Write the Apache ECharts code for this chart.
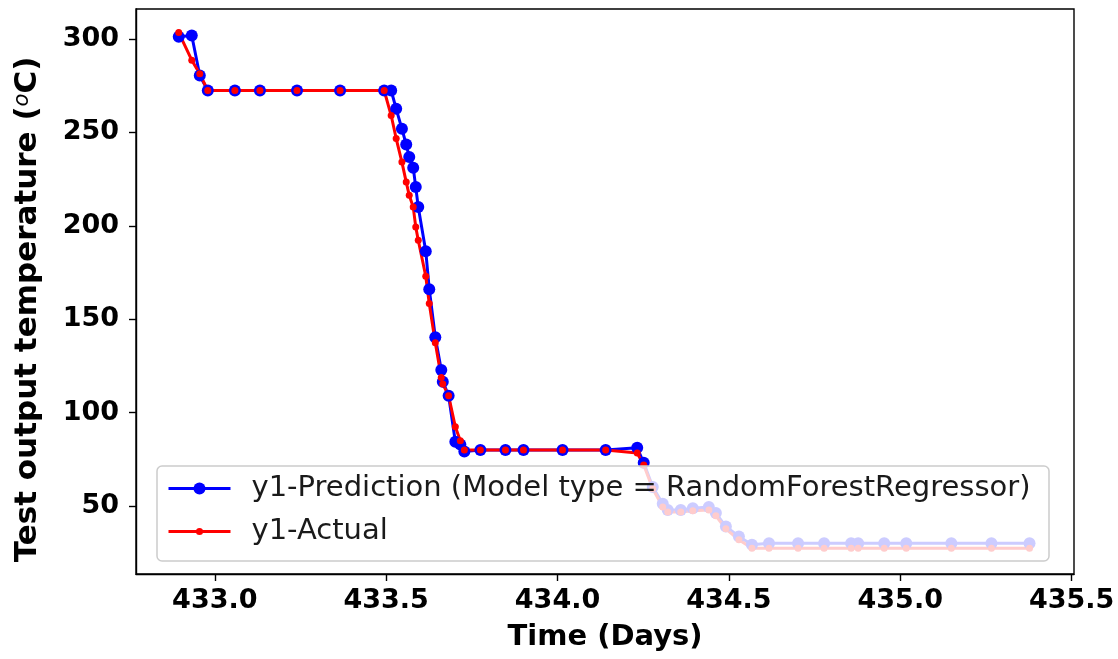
<!DOCTYPE html>
<html>
<head>
<meta charset="utf-8">
<title>Test output temperature</title>
<script src="https://cdn.jsdelivr.net/npm/echarts@6/dist/echarts.min.js"></script>
<style>
  html, body { margin: 0; padding: 0; background: #ffffff; }
  #chart { width: 1118px; height: 659px; }
</style>
</head>
<body>
<div id="chart"></div>
<script>
// Time stamps (days) shared by both series
const timeDays = [
  432.8947, 432.9327, 432.9561, 432.9795, 433.0585, 433.1316, 433.2398, 433.3655,
  433.4942, 433.5146, 433.5292, 433.5459, 433.5585, 433.5673, 433.5789, 433.5863,
  433.5936, 433.6155, 433.6257, 433.6433, 433.6608, 433.6652, 433.6822, 433.7018,
  433.7164, 433.7281, 433.7749, 433.8480, 433.9006, 434.0146, 434.1404, 434.2325,
  434.2515, 434.2778, 434.3070, 434.3216, 434.3596, 434.3947, 434.4415, 434.4620,
  434.4912, 434.5292, 434.5673, 434.6170, 434.7018, 434.7778, 434.8567, 434.8772,
  434.9532, 435.0175, 435.1491, 435.2661, 435.3772
];

// Predicted temperature (°C), RandomForestRegressor
const predTemp = [
  301.2, 301.8, 280.4, 272.4, 272.4, 272.4, 272.4, 272.4,
  272.4, 272.4, 262.6, 251.9, 243.5, 236.8, 231.1, 220.7,
  210.0, 186.4, 166.1, 140.4, 122.8, 116.6, 109.1, 84.5,
  83.0, 79.2, 80.1, 80.1, 80.1, 80.1, 80.1, 81.2,
  73.2, 60.3, 51.3, 48.0, 48.0, 48.9, 49.6, 46.3,
  39.1, 33.8, 29.3, 30.2, 30.2, 30.2, 30.2, 30.2,
  30.2, 30.2, 30.2, 30.2, 30.2
];

// Measured temperature (°C)
const actualTemp = [
  303.4, 288.6, 281.3, 272.4, 272.4, 272.4, 272.4, 272.4,
  272.4, 259.0, 246.7, 234.1, 223.4, 216.3, 210.0, 199.4,
  192.3, 173.0, 158.4, 137.4, 118.9, 115.3, 109.1, 92.5,
  85.0, 80.1, 80.1, 80.1, 80.1, 80.1, 80.1, 78.4,
  72.0, 59.3, 49.6, 46.9, 46.9, 47.5, 48.0, 44.8,
  37.9, 32.0, 27.5, 27.5, 27.5, 27.5, 27.5, 27.5,
  27.5, 27.5, 27.5, 27.5, 27.5
];

const xTickValues = [433.0, 433.5, 434.0, 434.5, 435.0, 435.5];
const yTickValues = [50, 100, 150, 200, 250, 300];

const predName = 'y1-Prediction (Model type = RandomForestRegressor)';
const actualName = 'y1-Actual';

const FONT = 'DejaVu Sans';
const INK = '#000000';

const predData = timeDays.map((t, i) => [t, predTemp[i]]);
const actualData = timeDays.map((t, i) => [t, actualTemp[i]]);

const chart = echarts.init(document.getElementById('chart'), null, { renderer: 'canvas' });

const legendCommon = {
  left: 167,
  orient: 'vertical',
  padding: 0,
  selectedMode: false,
  itemWidth: 62,
  z: 6,
  lineStyle: { width: 3 },
  textStyle: {
    fontFamily: FONT,
    fontSize: 29,
    color: '#1a1a1a',
    padding: [0, 0, 0, 16]
  }
};

chart.setOption({
  animation: false,
  backgroundColor: '#ffffff',
  grid: {
    left: 136,
    right: 44,
    top: 9,
    bottom: 85,
    show: true,
    borderColor: INK,
    borderWidth: 1.4,
    backgroundColor: 'transparent'
  },
  xAxis: {
    type: 'value',
    min: 432.77,
    max: 435.507,
    name: 'Time (Days)',
    nameLocation: 'middle',
    nameGap: 49,
    nameTextStyle: { fontFamily: FONT, fontSize: 29, fontWeight: 'bold', color: INK },
    axisLine: { show: true, lineStyle: { color: INK, width: 1.4 } },
    axisTick: {
      show: true, inside: false, length: 7,
      lineStyle: { color: INK, width: 1.4 },
      customValues: xTickValues
    },
    axisLabel: {
      customValues: xTickValues,
      formatter: v => v.toFixed(1),
      margin: 13,
      fontFamily: FONT, fontSize: 27, fontWeight: 'bold', color: INK
    },
    splitLine: { show: false }
  },
  yAxis: {
    type: 'value',
    min: 13.7,
    max: 316,
    name: 'Test output temperature ({sup|o}C)',
    nameLocation: 'middle',
    nameRotate: 90,
    nameGap: 93,
    nameTextStyle: {
      fontFamily: FONT, fontSize: 31, fontWeight: 'bold', color: INK,
      padding: [0, 36, 0, 0],
      rich: {
        sup: {
          fontFamily: FONT, fontSize: 21, fontStyle: 'italic', fontWeight: 'normal',
          color: INK, verticalAlign: 'top'
        }
      }
    },
    axisLine: { show: true, lineStyle: { color: INK, width: 1.4 } },
    axisTick: {
      show: true, inside: false, length: 7,
      lineStyle: { color: INK, width: 1.4 },
      customValues: yTickValues
    },
    axisLabel: {
      customValues: yTickValues,
      margin: 17,
      fontFamily: FONT, fontSize: 27, fontWeight: 'bold', color: INK
    },
    splitLine: { show: false }
  },
  // Semi-transparent legend frame drawn over the lines
  graphic: [{
    type: 'rect',
    z: 3,
    silent: true,
    shape: { x: 157, y: 466, width: 892, height: 95, r: 5 },
    style: { fill: 'rgba(255,255,255,0.8)', stroke: '#cccccc', lineWidth: 1.5 }
  }],
  legend: [
    Object.assign({}, legendCommon, { top: 474, itemHeight: 15, data: [predName] }),
    Object.assign({}, legendCommon, { top: 517, itemHeight: 9, data: [actualName] })
  ],
  series: [
    {
      name: predName,
      type: 'line',
      data: predData,
      symbol: 'circle',
      symbolSize: 12,
      showAllSymbol: true,
      z: 2,
      lineStyle: { color: '#0000ff', width: 3 },
      itemStyle: { color: '#0000ff', borderWidth: 0 },
      emphasis: { disabled: true }
    },
    {
      name: actualName,
      type: 'line',
      data: actualData,
      symbol: 'circle',
      symbolSize: 7,
      showAllSymbol: true,
      z: 2,
      lineStyle: { color: '#ff0000', width: 3 },
      itemStyle: { color: '#ff0000', borderWidth: 0 },
      emphasis: { disabled: true }
    }
  ]
});
</script>
</body>
</html>
